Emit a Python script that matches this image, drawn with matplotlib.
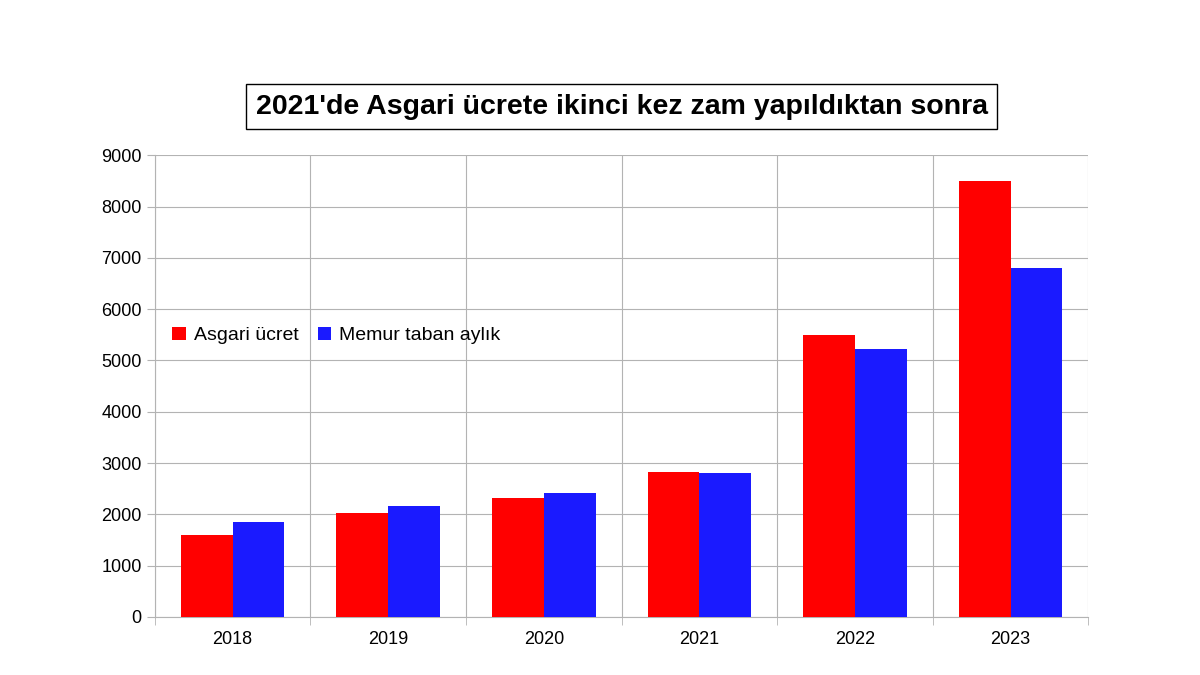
import matplotlib.pyplot as plt
import numpy as np

years = ['2018', '2019', '2020', '2021', '2022', '2023']
asgari = [1603, 2020, 2325, 2825, 5500, 8500]
memur = [1850, 2170, 2420, 2800, 5220, 6800]

plt.rcParams['font.family'] = ['Liberation Sans', 'DejaVu Sans']

fig = plt.figure(figsize=(12, 6.75), dpi=100)
ax = fig.add_axes([0.129, 0.086, 0.778, 0.684])

x = np.arange(len(years))
w = 0.333
ax.bar(x - w / 2, asgari, w, color='#ff0000', label='Asgari ücret', zorder=3)
ax.bar(x + w / 2, memur, w, color='#1a1aff', label='Memur taban aylık', zorder=3)

ax.set_xlim(-0.5, len(years) - 0.5)
ax.set_ylim(0, 9000)
ax.set_yticks(range(0, 9001, 1000))
ax.set_xticks(x)
ax.set_xticklabels(years)
ax.set_xticks(np.arange(-0.5, len(years)), minor=True)
ax.tick_params(axis='x', which='major', length=0, pad=10, labelsize=13)
ax.tick_params(axis='x', which='minor', length=6, color='#b3b3b3')
ax.tick_params(axis='y', length=6, color='#b3b3b3', labelsize=13)
ax.grid(axis='y', color='#b3b3b3', zorder=0)
ax.grid(axis='x', which='minor', color='#b3b3b3', zorder=0)
for s in ['top', 'right']:
    ax.spines[s].set_visible(False)
for s in ['left', 'bottom']:
    ax.spines[s].set_color('#b3b3b3')

ax.legend(loc='center left', bbox_to_anchor=(0.0, 0.61), ncol=2, frameon=False,
          fontsize=14, handlelength=0.7, handleheight=0.7, handletextpad=0.4,
          columnspacing=1.0)

fig.text(0.518, 0.842, "2021'de Asgari ücrete ikinci kez zam yapıldıktan sonra",
         ha='center', va='center', fontsize=20.5, fontweight='bold',
         bbox=dict(facecolor='white', edgecolor='black', pad=7))

fig.savefig('out.png', dpi=100)
